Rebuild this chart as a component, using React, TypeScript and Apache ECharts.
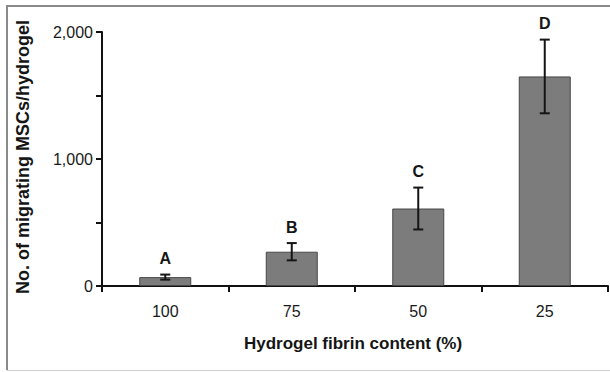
import React, { useEffect, useRef } from "react";
import * as echarts from "echarts";

const categories = ["100", "75", "50", "25"];
const means = [70, 270, 610, 1650];
const errors = [20, 68, 165, 290];
const letters = ["A", "B", "C", "D"];
const yTicks = [0, 500, 1000, 1500, 2000];

export default function App() {
  const ref = useRef<HTMLDivElement>(null);
  useEffect(() => {
    if (!ref.current) return;
    const chart = echarts.init(ref.current, null, { renderer: "svg" });
    const errData = means.map((m, i) => [i, m - errors[i], m + errors[i], letters[i]]);
    chart.setOption({
      animation: false,
      backgroundColor: "#ffffff",
      grid: { left: 102, right: 2, top: 32, bottom: 86 },
      xAxis: {
        type: "category",
        data: categories,
        boundaryGap: true,
        axisLine: { lineStyle: { color: "#111", width: 2 } },
        axisTick: { show: true, inside: false, length: 6, lineStyle: { color: "#111", width: 2 } },
        axisLabel: { margin: 17, fontSize: 16, color: "#1a1a1a", fontFamily: "Liberation Sans, Arial, sans-serif" },
      },
      yAxis: {
        type: "value",
        min: yTicks[0],
        max: yTicks[yTicks.length - 1],
        interval: 500,
        splitLine: { show: false },
        axisLine: { show: true, lineStyle: { color: "#111", width: 2 } },
        axisTick: { show: true, inside: false, length: 6, lineStyle: { color: "#111", width: 2 } },
        axisLabel: {
          margin: 9,
          fontSize: 16,
          color: "#1a1a1a",
          fontFamily: "Liberation Sans, Arial, sans-serif",
          formatter: (v: number) => (v % 1000 === 0 ? v.toLocaleString("en-US") : ""),
        },
      },
      series: [
        {
          type: "bar",
          data: means,
          barWidth: 52,
          itemStyle: { color: "#7c7c7c", borderColor: "#474747", borderWidth: 1 },
        },
        {
          type: "custom",
          data: errData,
          z: 5,
          renderItem: (params: any, api: any) => {
            const x = api.coord([api.value(0), 0])[0];
            const lo = api.coord([api.value(0), api.value(1)])[1];
            const hi = api.coord([api.value(0), api.value(2)])[1];
            const w = 5;
            const st = { stroke: "#151515", lineWidth: 2 };
            return {
              type: "group",
              children: [
                { type: "line", shape: { x1: x, y1: lo, x2: x, y2: hi }, style: st },
                { type: "line", shape: { x1: x - w, y1: lo, x2: x + w, y2: lo }, style: st },
                { type: "line", shape: { x1: x - w, y1: hi, x2: x + w, y2: hi }, style: st },
                {
                  type: "text",
                  x: x,
                  y: hi - 16,
                  style: {
                    text: letters[params.dataIndex],
                    fill: "#151515",
                    font: "bold 16px 'Liberation Sans', Arial, sans-serif",
                    align: "center",
                    verticalAlign: "middle",
                  },
                },
              ],
            };
          },
        },
      ],
      graphic: [
        {
          type: "polyline",
          shape: { points: [[7, 370], [7, 6], [610, 6]] },
          style: { stroke: "#8a8a8a", lineWidth: 2, fill: "none" },
        },
        {
          type: "line",
          shape: { x1: 7, y1: 370.5, x2: 610, y2: 370.5 },
          style: { stroke: "#d0d0d0", lineWidth: 1 },
        },
        {
          type: "text",
          x: 353,
          y: 343,
          style: {
            text: "Hydrogel fibrin content (%)",
            fill: "#151515",
            font: "bold 17px 'Liberation Sans', Arial, sans-serif",
            align: "center",
            verticalAlign: "middle",
          },
        },
        {
          type: "text",
          x: 23,
          y: 157,
          rotation: Math.PI / 2,
          style: {
            text: "No. of migrating MSCs/hydrogel",
            fill: "#151515",
            font: "bold 18px 'Liberation Sans', Arial, sans-serif",
            align: "center",
            verticalAlign: "middle",
          },
        },
      ],
    });
    return () => chart.dispose();
  }, []);
  return (
    <div
      ref={ref}
      style={{ position: "fixed", left: 0, top: 0, width: 610, height: 372 }}
    />
  );
}
